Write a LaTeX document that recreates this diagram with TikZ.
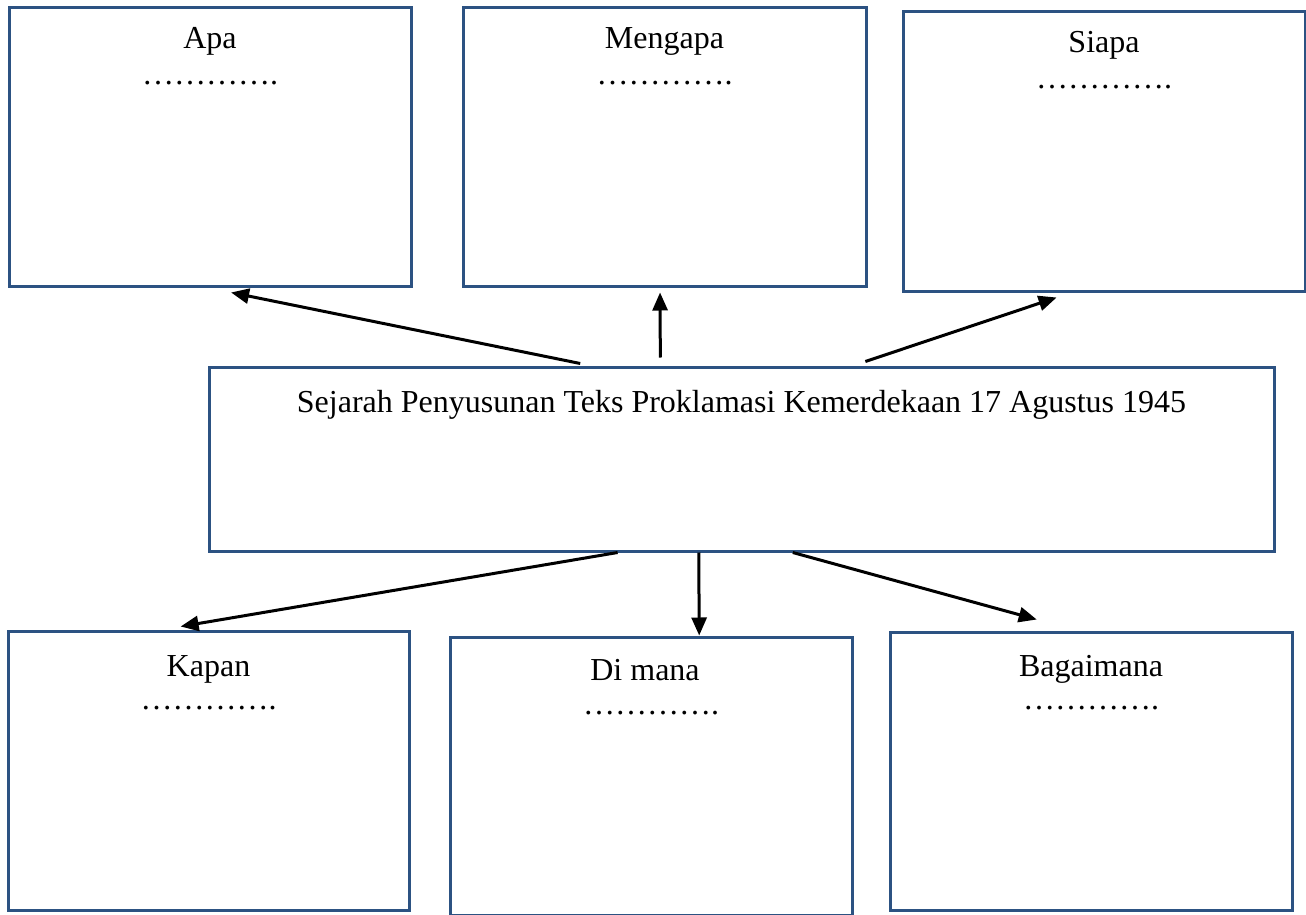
\documentclass[tikz,border=0pt]{standalone}
\usepackage{fontspec}
\setmainfont{Liberation Serif}
\usetikzlibrary{arrows.meta,calc}
\definecolor{boxblue}{RGB}{44,82,130}
\tikzset{
  box/.style={draw=boxblue, line width=3pt, rectangle, inner sep=0pt, fill=white},
  lbl/.style={anchor=base, inner sep=0pt, font=\fontsize{32}{38}\selectfont},
  arr/.style={line width=3pt, -{Triangle[length=18pt,width=15pt]}}
}
\begin{document}
\begin{tikzpicture}[x=1pt,y=-1pt]
\useasboundingbox (0,0) rectangle (1306,915);
% boxes
\node[box, minimum width=402pt, minimum height=278pt] (apa) at (210,147) {};
\node[box, minimum width=403pt, minimum height=278pt] (mengapa) at (664.5,147) {};
\node[box, minimum width=402pt, minimum height=279pt] (siapa) at (1104,151.5) {};
\node[box, minimum width=1065pt, minimum height=184pt] (pusat) at (741.5,459) {};
\node[box, minimum width=401pt, minimum height=279pt] (kapan) at (208.5,770.5) {};
\node[box, minimum width=402pt, minimum height=278pt] (dimana) at (651,776) {};
\node[box, minimum width=402pt, minimum height=278pt] (bagaimana) at (1091,771) {};
% labels
\node[lbl] (apaT) at ($(apa.north)+(0,42)$) {Apa};
\node[lbl] (apaD) at ($(apa.north)+(0,78)$) {………….};
\node[lbl] (mengapaT) at ($(mengapa.north)+(0,42)$) {Mengapa};
\node[lbl] (mengapaD) at ($(mengapa.north)+(0,78)$) {………….};
\node[lbl] (siapaT) at ($(siapa.north)+(0,42)$) {Siapa};
\node[lbl] (siapaD) at ($(siapa.north)+(0,78)$) {………….};
\node[lbl] (pusatT) at ($(pusat.north)+(0,47)$) {Sejarah Penyusunan Teks Proklamasi Kemerdekaan 17 Agustus 1945};
\node[lbl] (kapanT) at ($(kapan.north)+(0,47)$) {Kapan};
\node[lbl] (kapanD) at ($(kapan.north)+(0,80)$) {………….};
\node[lbl] (dimanaT) at ($(dimana.north)+(-6,45)$) {Di mana};
\node[lbl] (dimanaD) at ($(dimana.north)+(0,79)$) {………….};
\node[lbl] (bagaimanaT) at ($(bagaimana.north)+(0,46)$) {Bagaimana};
\node[lbl] (bagaimanaD) at ($(bagaimana.north)+(0,79)$) {………….};
% arrows
\draw[arr] ($(pusat.north west)!0.349!(pusat.north east)+(0,-2)$) -- ($(apa.south west)!0.552!(apa.south east)+(0,5)$);
\draw[arr] ($(pusat.north west)!0.424!(pusat.north east)+(0,-8)$) -- ($(mengapa.south west)!0.489!(mengapa.south east)+(0,5)$);
\draw[arr] ($(pusat.north west)!0.616!(pusat.north east)+(0,-4)$) -- ($(siapa.south west)!0.383!(siapa.south east)+(0,5)$);
\draw[arr] ($(pusat.south west)!0.384!(pusat.south east)$) -- ($(kapan.north west)!0.431!(kapan.north east)+(0,-3)$);
\draw[arr] ($(pusat.south west)!0.46!(pusat.south east)$) -- ($(dimana.north west)!0.619!(dimana.north east)$);
\draw[arr] ($(pusat.south west)!0.548!(pusat.south east)$) -- ($(bagaimana.north west)!0.366!(bagaimana.north east)+(0,-11)$);
\end{tikzpicture}
\end{document}
